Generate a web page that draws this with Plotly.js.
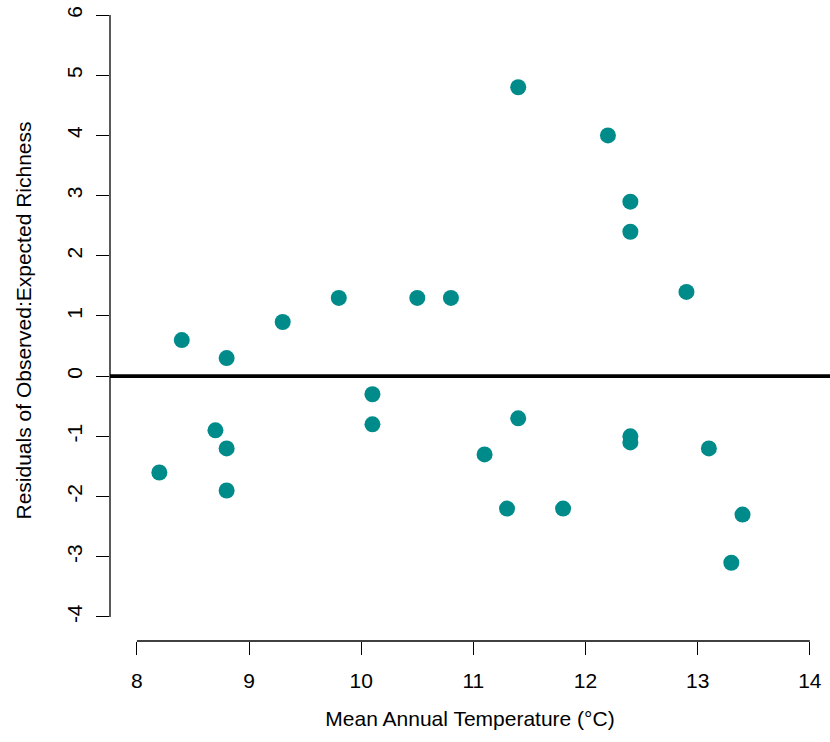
<!DOCTYPE html>
<html>
<head>
<meta charset="utf-8">
<script src="https://cdn.plot.ly/plotly-3.0.1.min.js"></script>
<style>html,body{margin:0;padding:0;background:#fff;}#chart{width:830px;height:742px;}</style>
</head>
<body>
<div id="chart"></div>
<script>
// Mean annual temperature (°C)
const temperature = [8.2, 8.4, 8.7, 8.8, 8.8, 8.8, 9.3, 9.8, 10.1, 10.1, 10.5, 10.8, 11.1, 11.3, 11.4, 11.4, 11.8, 12.2, 12.4, 12.4, 12.4, 12.4, 12.9, 13.1, 13.3, 13.4];
// Residuals of observed:expected richness
const residuals = [-1.6, 0.6, -0.9, 0.3, -1.2, -1.9, 0.9, 1.3, -0.3, -0.8, 1.3, 1.3, -1.3, -2.2, 4.8, -0.7, -2.2, 4.0, 2.9, 2.4, -1.0, -1.1, 1.4, -1.2, -3.1, -2.3];
const xTicks = [8, 9, 10, 11, 12, 13, 14];
const yTicks = [-4, -3, -2, -1, 0, 1, 2, 3, 4, 5, 6];
const referenceLevel = 0;

const font = {family: 'Liberation Sans, Arial, sans-serif', size: 21, color: '#000'};

const trace = {
  x: temperature, y: residuals, type: 'scatter', mode: 'markers',
  marker: {color: '#008B8B', size: 16, line: {width: 0}},
  hoverinfo: 'x+y', showlegend: false
};

const layout = {
  width: 830, height: 742,
  margin: {l: 110, r: 0, t: 0, b: 101, pad: 0},
  paper_bgcolor: '#fff', plot_bgcolor: '#fff',
  font: font,
  showlegend: false,
  xaxis: {
    range: [7.76, 14.18], showgrid: false, zeroline: false, showline: false,
    tickmode: 'array', tickvals: xTicks, ticktext: xTicks.map(String),
    ticks: 'outside', ticklen: 13, tickwidth: 1, tickcolor: '#000',
    tickfont: font, ticklabelstandoff: 8,
    title: {text: 'Mean Annual Temperature (°C)', font: font, standoff: 20}
  },
  yaxis: {
    range: [-4.4, 6.25], showgrid: false, zeroline: false, showline: false,
    tickmode: 'array', tickvals: yTicks, ticktext: yTicks.map(String),
    ticks: 'outside', ticklen: 13, tickwidth: 1, tickcolor: '#000',
    tickangle: -90, tickfont: font, ticklabelstandoff: 6,
    title: {text: 'Residuals of Observed:Expected Richness', font: font, standoff: 25}
  },
  shapes: [
    {type: 'line', xref: 'x', yref: 'paper', x0: Math.min(...xTicks), x1: Math.max(...xTicks), y0: 0, y1: 0, line: {color: '#000', width: 1.3}},
    {type: 'line', xref: 'paper', yref: 'y', x0: 0, x1: 0, y0: Math.min(...yTicks), y1: Math.max(...yTicks), line: {color: '#000', width: 1.3}},
    {type: 'line', xref: 'paper', yref: 'y', x0: 0, x1: 1, y0: referenceLevel, y1: referenceLevel, line: {color: '#000', width: 3.6}, layer: 'below'}
  ]
};

Plotly.newPlot('chart', [trace], layout, {displayModeBar: false, staticPlot: true});
</script>
</body>
</html>
